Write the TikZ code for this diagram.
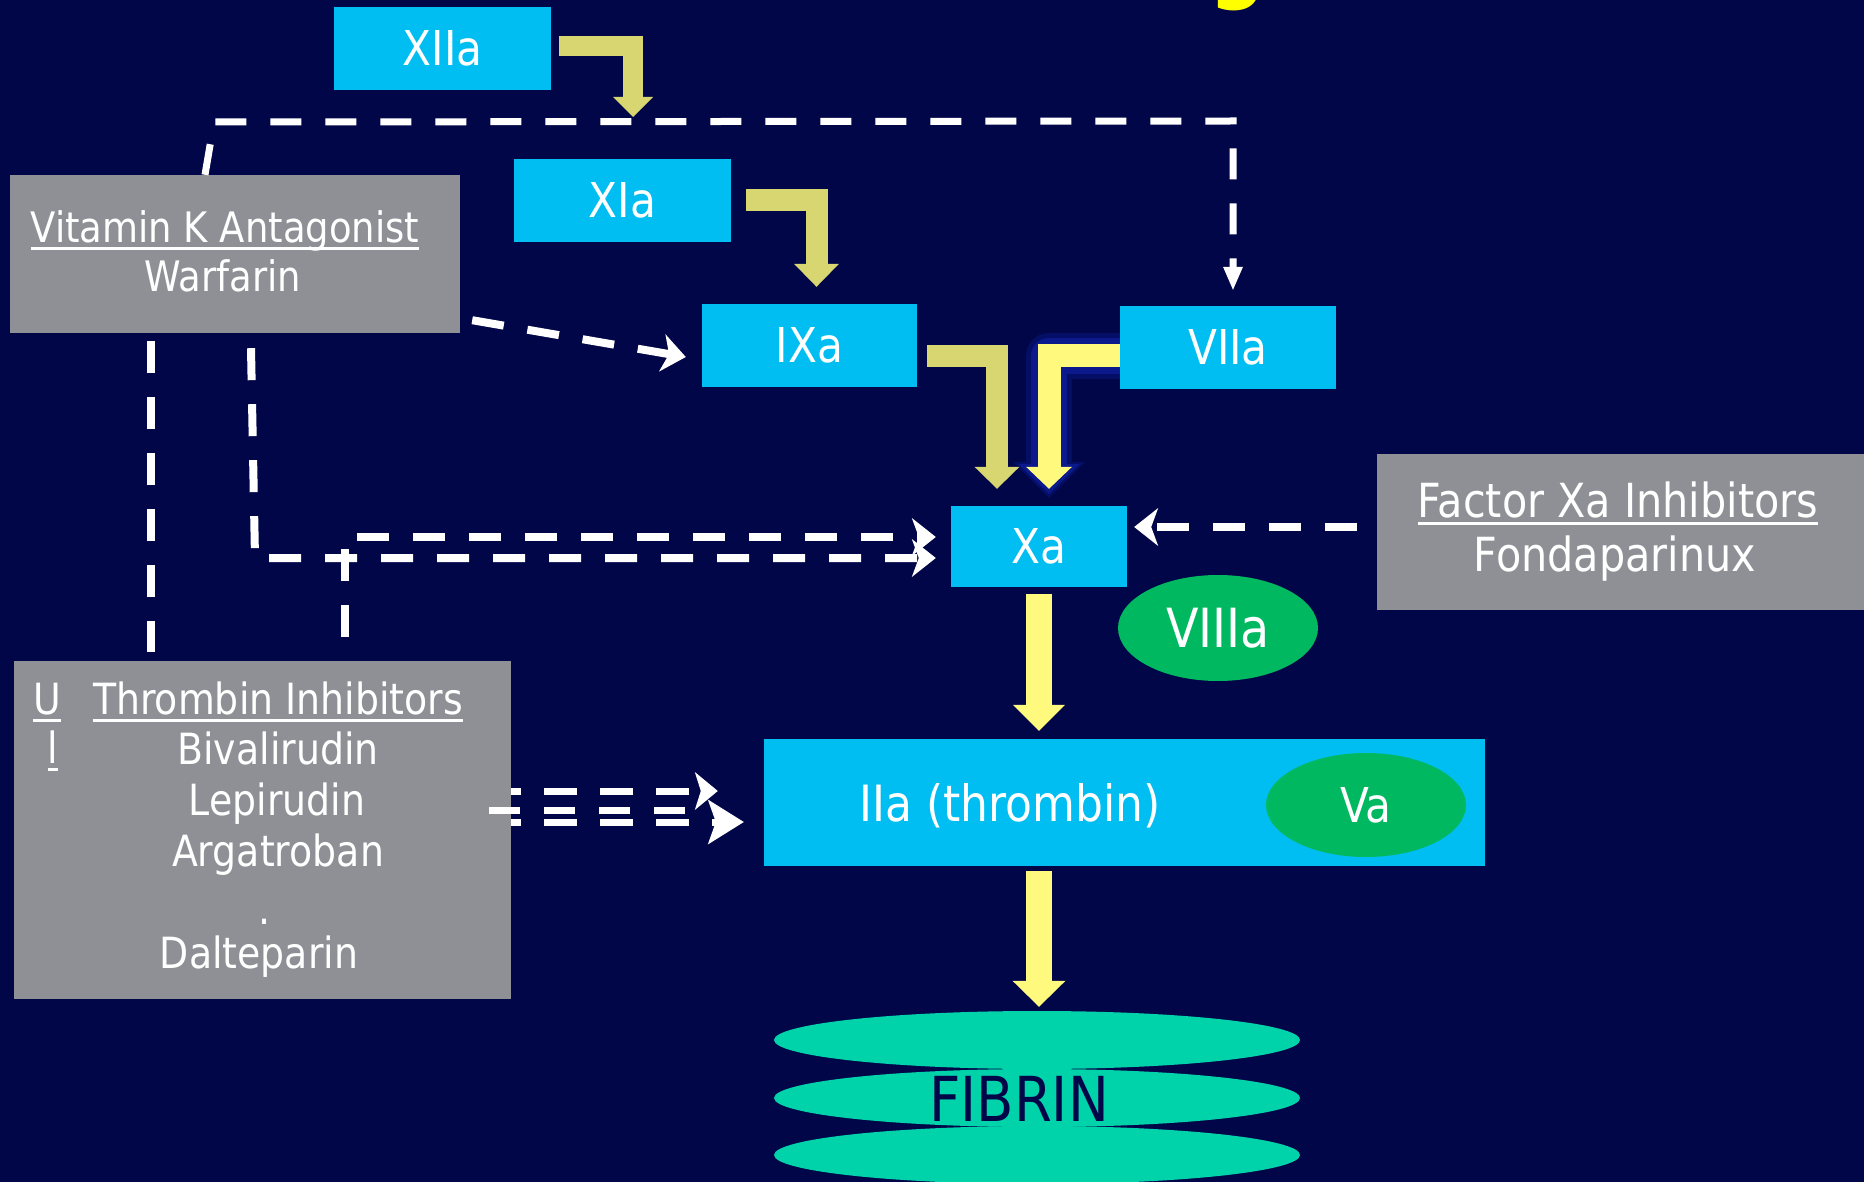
\documentclass[tikz,border=0pt]{standalone}
\usepackage{fontspec}
\setmainfont{DejaVu Sans}[FakeStretch=0.88]
\usetikzlibrary{arrows.meta,shapes.geometric,calc}
\definecolor{bgnavy}{RGB}{0,6,72}
\definecolor{cyanb}{RGB}{0,190,242}
\definecolor{grayb}{RGB}{143,144,150}
\definecolor{greenb}{RGB}{0,184,96}
\definecolor{fibc}{RGB}{0,210,170}
\definecolor{olivey}{RGB}{216,214,112}
\definecolor{brighty}{RGB}{255,250,125}
\definecolor{glowb}{RGB}{20,40,190}
\definecolor{titley}{RGB}{255,255,0}
\newcommand\lblfont{\fontsize{48}{56}\selectfont}
\newcommand\gfont{\fontsize{43}{52}\selectfont}
\newsavebox\ulbox
\newcommand\myul[1]{\sbox\ulbox{#1}\rlap{\rule[-7.5pt]{\wd\ulbox}{3pt}}\usebox\ulbox}
\begin{document}
\begin{tikzpicture}[x=1pt,y=-1pt,
  cbox/.style={rectangle, fill=cyanb, inner sep=0pt, text=white, font=\lblfont},
  gbox/.style={rectangle, fill=grayb, inner sep=0pt},
  gtxt/.style={text=white, font=\gfont, inner sep=0pt, anchor=base},
  gell/.style={ellipse, fill=greenb, inner sep=0pt, text=white, font=\lblfont},
  fell/.style={ellipse, fill=fibc, inner sep=0pt, minimum width=526pt, minimum height=58pt},
  wline/.style={draw=white, line width=8pt, dash pattern=on 32pt off 24pt},
  wtip/.style={-{Stealth[length=24pt,width=38pt,inset=7pt,line width=0pt]}},
]
\useasboundingbox (0,0) rectangle (1864,1182);
\fill[bgnavy] (0,0) rectangle (1864,1182);
\clip (0,0) rectangle (1864,1182);

% title fragment
\node[anchor=base, text=titley, font=\fontsize{90}{100}\selectfont\bfseries, inner sep=0pt] (titleg) at (1238,-8) {g};

% boxes
\node[cbox, minimum width=217pt, minimum height=83pt] (XIIa) at (442.5,48.5) {XIIa};
\node[cbox, minimum width=217pt, minimum height=83pt] (XIa) at (622.5,200.5) {XIa};
\node[cbox, minimum width=215pt, minimum height=83pt] (IXa) at (809.5,345.5) {IXa};
\node[cbox, minimum width=216pt, minimum height=83pt] (VIIa) at (1228,347.5) {VIIa};
\node[cbox, minimum width=176pt, minimum height=81pt] (Xa) at (1039,546.5) {Xa};
\node[cbox, minimum width=721pt, minimum height=127pt] (IIa) at (1124.5,802.5) {};
\node[gtxt, font=\fontsize{50}{58}\selectfont] (IIaT) at (1010,821) {IIa (thrombin)};
\node[gell, minimum width=200pt, minimum height=106pt, font=\fontsize{54}{60}\selectfont] (VIIIa) at (1218,628) {VIIIa};
\node[gell, minimum width=200pt, minimum height=104pt] (Va) at (1366,805) {Va};

\node[gbox, minimum width=450pt, minimum height=158pt] (VK) at (235,254) {};
\node[gtxt, font=\fontsize{42}{50}\selectfont] (VKa) at (225,243) {\myul{Vitamin K Antagonist}};
\node[gtxt, font=\fontsize{42}{50}\selectfont] (VKb) at (223,292) {Warfarin};

\node[gbox, minimum width=487pt, minimum height=156pt] (Fxa) at (1620.5,532) {};
\node[gtxt, font=\fontsize{47}{54}\selectfont] (Fxaa) at (1618,517) {\myul{Factor Xa Inhibitors}};
\node[gtxt, font=\fontsize{47}{54}\selectfont] (Fxab) at (1615,571) {Fondaparinux};

\node[gbox, minimum width=497pt, minimum height=338pt] (Thr) at (262.5,830) {};
\node[gtxt] (ThrU) at (47,714) {\myul{U}};
\node[gtxt] (ThrA) at (278,714) {\myul{Thrombin Inhibitors}};
\node[gtxt] (ThrL) at (53,763) {\myul{l}};
\node[gtxt] (ThrB) at (278,764) {Bivalirudin};
\node[gtxt] (ThrC) at (277,815) {Lepirudin};
\node[gtxt] (ThrD) at (278,866) {Argatroban};
\node[gtxt] (ThrE) at (265,924) {.};
\node[gtxt] (ThrF) at (259,968) {Dalteparin};

% fibrin
\node[fell] (fib1) at (1037,1040) {};
\node[fell] (fib2) at (1037,1098) {};
\node[fell] (fib3) at (1037,1155) {};
\node[anchor=base, inner sep=0pt, text=bgnavy, font=\fontsize{62}{68}\selectfont] (fibT) at (1019,1121) {FIBRIN};

% block arrows
\coordinate (tipXII) at (633,117);
\draw[draw=olivey, line width=20pt, -{Triangle[length=20pt,width=40pt,line width=0pt]}]
  ([xshift=8pt,yshift=2.5pt]XIIa.east) -| (tipXII);
\draw[draw=olivey, line width=22pt, -{Triangle[length=23pt,width=45pt,line width=0pt]}]
  ([xshift=15pt]XIa.east) -| ([xshift=7pt,yshift=17pt]IXa.north);
\draw[draw=olivey, line width=22pt, -{Triangle[length=22pt,width=45pt,line width=0pt]}]
  ([xshift=10pt,yshift=-10.5pt]IXa.east) -| ([xshift=-42pt,yshift=17pt]Xa.north);
% glow
\draw[draw=glowb, opacity=0.25, line width=46pt, line join=round, -{Triangle[length=36pt,width=72pt,line width=0pt]}]
  ([yshift=-8.5pt]VIIa.west) -| ([xshift=10pt,yshift=8pt]Xa.north);
\draw[draw=glowb, opacity=0.45, line width=36pt, line join=round, -{Triangle[length=30pt,width=62pt,line width=0pt]}]
  ([yshift=-8.5pt]VIIa.west) -| ([xshift=10pt,yshift=12pt]Xa.north);
\draw[draw=brighty, line width=23pt, -{Triangle[length=22pt,width=46pt,line width=0pt]}]
  ([yshift=-8.5pt]VIIa.west) -| ([xshift=10pt,yshift=17pt]Xa.north);
\draw[draw=brighty, line width=26pt, -{Triangle[length=26pt,width=52pt,line width=0pt]}]
  ([yshift=-7pt]Xa.south) -- ($(Xa.south |- IIa.north)+(0,-8)$);
\draw[draw=brighty, line width=26pt, -{Triangle[length=26pt,width=53pt,line width=0pt]}]
  ($(Xa.south |- IIa.south)+(0,5)$) -- ($(Xa.south |- fib1.north)+(0,-4)$);

% white dashed connectors
\draw[wline, line width=7pt, dash pattern=on 31pt off 24pt, -{Triangle[length=23pt,width=20pt,line width=0pt]}]
  ([xshift=-30pt]VK.north) -- (214,122) -- (1233,121) -- ([xshift=5pt,yshift=16pt]VIIa.north);
\draw[wline, wtip] ($(VK.south east)+(12,-13)$) -- ($(IXa.west)+(-16,11.5)$);
\draw[wline] ($(VK.south)+(-84,8)$) -- ($(Thr.north)+(-111.5,-9)$);
\draw[wline, wtip] ($(VK.south)+(16,15)$) -- (255,558) -- ($(Xa.west)+(-15,11.5)$);
\draw[wline, wtip, dash phase=32pt] ($(Thr.north)+(82.5,0)$) -- (345,537) -- ($(Xa.west)+(-15,-9.5)$);
\draw[wline, wtip] ($(Fxa.west)+(-20,-5)$) -- ($(Xa.east)+(7,-19.5)$);
\coordinate (midend) at (690,810);
\draw[wline, line width=7pt, dash pattern=on 33pt off 23pt, dash phase=23pt, -{Stealth[length=23pt,width=38pt,inset=6pt,line width=0pt]}]
  ($(Thr.east)+(0,-39)$) -- ($(IIa.west)+(-46,-11.5)$);
\draw[wline, line width=7pt, dash pattern=on 31pt off 24pt] ($(Thr.east)+(-22,-20)$) -- (midend);
\draw[wline, line width=7pt, dash pattern=on 33pt off 23pt, dash phase=23pt, -{Stealth[length=36pt,width=45pt,inset=8pt,line width=0pt]}]
  ($(Thr.east)+(0,-8)$) -- ($(IIa.west)+(-20,19.5)$);
\end{tikzpicture}
\end{document}
